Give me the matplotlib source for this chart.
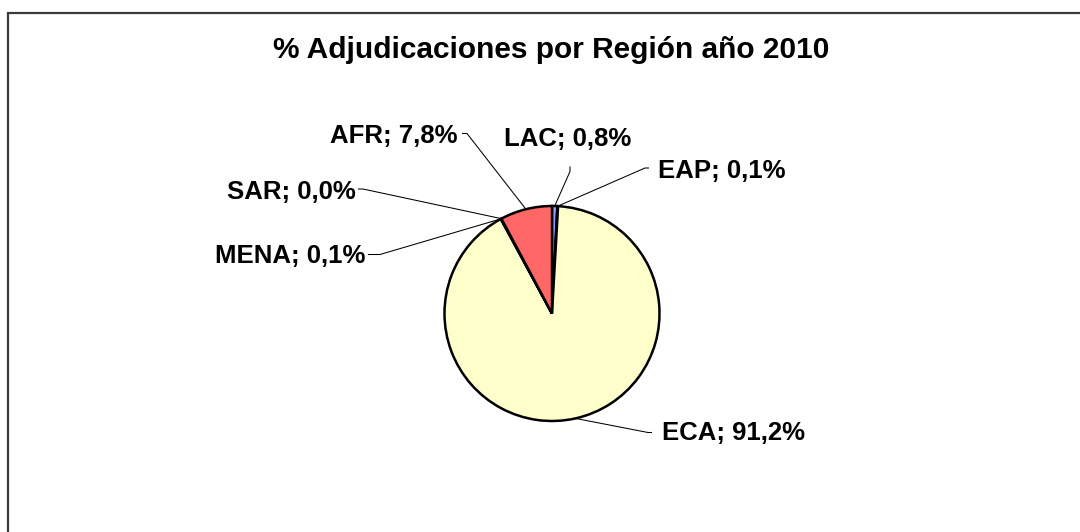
import numpy as np
import matplotlib
matplotlib.use("Agg")
import matplotlib.pyplot as plt
from matplotlib.patches import Rectangle

plt.rcParams['font.family'] = ['Liberation Sans', 'DejaVu Sans']

# data (clockwise from 12 o'clock)
regions = ['LAC', 'EAP', 'ECA', 'MENA', 'SAR', 'AFR']
shares = [0.8, 0.1, 91.2, 0.1, 0.0, 7.8]
colors = ['#9999FF', '#993366', '#FFFFCC', '#CCFFFF', '#660066', '#FF6666']
title = '% Adjudicaciones por Región año 2010'

W, H = 1080, 532


def py(y):
    # pixel row (from top) -> data y
    return H - y


# label layout: text anchor (x, baseline row), alignment, leader elbow + end
layout = {
    'LAC':  dict(xy=(568, 146.5), ha='center', elbow=(570, 171.5), end=(570, 166.5)),
    'EAP':  dict(xy=(658, 178.5), ha='left', elbow=(645, 168), end=(649, 168)),
    'ECA':  dict(xy=(662, 440.5), ha='left', elbow=(648, 432.5), end=(652, 432.5)),
    'MENA': dict(xy=(365, 263), ha='right', elbow=(380, 254.5), end=(368, 254.5)),
    'SAR':  dict(xy=(356, 199), ha='right', elbow=(363, 189), end=(358, 189)),
    'AFR':  dict(xy=(458, 143), ha='right', elbow=(467, 133.5), end=(462, 133.5)),
}

fig = plt.figure(figsize=(W / 100, H / 100), dpi=100)
ax = fig.add_axes([0, 0, 1, 1])

cx, cy, r = 552, py(313.5), 107.5
wedges, _ = ax.pie(shares, colors=colors, startangle=90, counterclock=False,
                   center=(cx, cy), radius=r,
                   wedgeprops=dict(edgecolor='black', linewidth=1.8))
ax.set_xlim(0, W)
ax.set_ylim(0, H)
ax.set_aspect('auto')
ax.axis('off')

for w, name, val in zip(wedges, regions, shares):
    lay = layout[name]
    ang = np.deg2rad((w.theta1 + w.theta2) / 2)
    x0, y0 = cx + r * np.cos(ang), cy + r * np.sin(ang)
    ex, ey = lay['elbow']
    fx, fy = lay['end']
    ax.plot([x0, ex, fx], [y0, py(ey), py(fy)], color='black', lw=0.75,
            solid_capstyle='butt', zorder=1)
    label = f'{name}; {val:.1f}%'.replace('.', ',')
    ax.text(lay['xy'][0], py(lay['xy'][1]), label, ha=lay['ha'], va='baseline',
            fontsize=18.5, fontweight='bold', color='black')

ax.text(551.5, py(58.5), title, ha='center', va='baseline',
        fontsize=21.5, fontweight='bold', color='black')

# chart area frame (runs off the right and bottom edges)
ax.add_patch(Rectangle((8, py(600)), 1200, 600 - 13, fill=False,
                       edgecolor='#3a3a3a', lw=1.6, clip_on=False))

fig.savefig('out.png', dpi=100)
